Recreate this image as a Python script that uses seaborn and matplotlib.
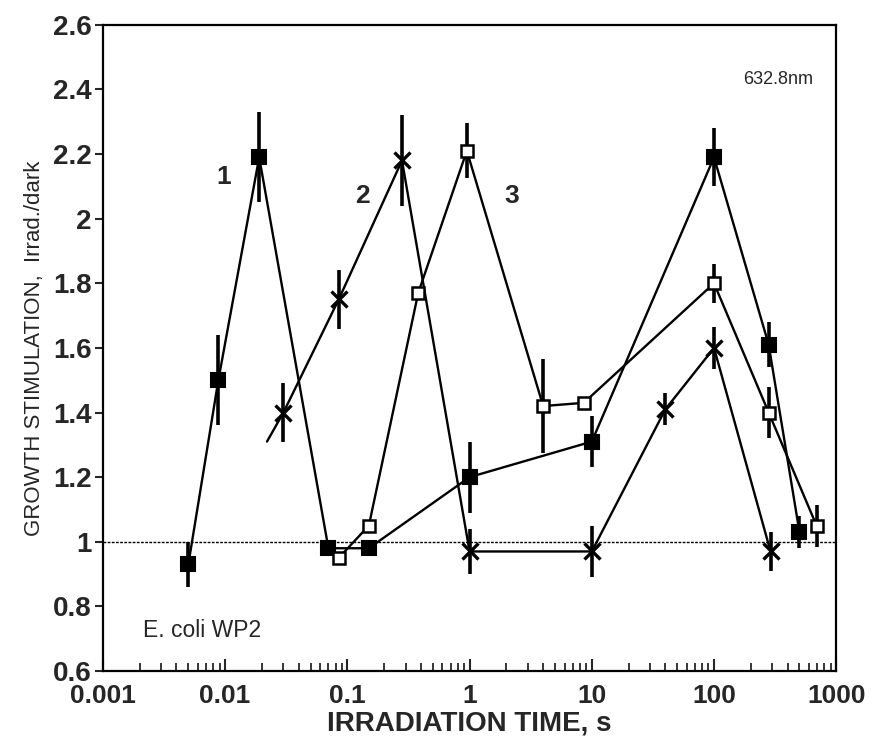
import numpy as np
import matplotlib
matplotlib.use("Agg")
import matplotlib.pyplot as plt
import seaborn as sns

# series 1 (filled squares)
t1 = [0.005, 0.0088, 0.019, 0.07, 0.15, 1, 10, 100, 280, 500]
g1 = [0.93, 1.50, 2.19, 0.98, 0.98, 1.20, 1.31, 2.19, 1.61, 1.03]
e1 = [0.07, 0.14, 0.14, 0.0, 0.0, 0.11, 0.08, 0.09, 0.07, 0.05]

# series 2 (crosses), first point is the start of the line only
t2 = [0.022, 0.030, 0.085, 0.28, 1, 10, 40, 100, 290]
g2 = [1.31, 1.40, 1.75, 2.18, 0.97, 0.97, 1.41, 1.60, 0.97]
e2 = [0.0, 0.09, 0.09, 0.14, 0.07, 0.08, 0.05, 0.065, 0.06]

# series 3 (open squares)
t3 = [0.085, 0.15, 0.38, 0.95, 4, 8.6, 100, 280, 690]
g3 = [0.95, 1.05, 1.77, 2.21, 1.42, 1.43, 1.80, 1.40, 1.05]
e3 = [0.0, 0.0, 0.0, 0.085, 0.145, 0.0, 0.06, 0.08, 0.065]

xticks = [0.001, 0.01, 0.1, 1, 10, 100, 1000]
xticklabels = ['0.001', '0.01', '0.1', '1', '10', '100', '1000']
yticks = [0.6, 0.8, 1.0, 1.2, 1.4, 1.6, 1.8, 2.0, 2.2, 2.4, 2.6]

sns.set_style("ticks")
plt.rcParams['font.family'] = ['Liberation Sans', 'DejaVu Sans']

fig = plt.figure(figsize=(8.72, 7.51), dpi=100)
ax = fig.add_axes([0.118, 0.1065, 0.841, 0.8605])

ax.axhline(1.0, color='k', lw=1.0, ls=(0, (2, 1)), zorder=1)

# error bars
for t, g, e in [(t1, g1, e1), (t2, g2, e2), (t3, g3, e3)]:
    t = np.array(t); g = np.array(g); e = np.array(e)
    m = e > 0
    ax.vlines(t[m], g[m] - e[m], g[m] + e[m], color='k', lw=2.6, zorder=2)

sns.lineplot(x=t1, y=g1, ax=ax, color='k', lw=1.7, sort=False, estimator=None,
             marker='s', markersize=10, markerfacecolor='k',
             markeredgecolor='k', markeredgewidth=1.5, zorder=3)
sns.lineplot(x=t2, y=g2, ax=ax, color='k', lw=1.7, sort=False, estimator=None,
             marker='x', markersize=11, markeredgecolor='k',
             markeredgewidth=2.4, markevery=list(range(1, len(t2))), zorder=3)
sns.lineplot(x=t3, y=g3, ax=ax, color='k', lw=1.7, sort=False, estimator=None,
             marker='s', markersize=9, markerfacecolor='white',
             markeredgecolor='k', markeredgewidth=1.8, zorder=4)

ax.set_xscale('log')
ax.set_xlim(0.001, 1000)
ax.set_ylim(0.6, 2.6)
ax.set_xticks(xticks)
ax.set_xticklabels(xticklabels, fontsize=19, fontweight='bold')
ax.set_yticks(yticks)
ax.set_yticklabels([f'{v:g}' for v in yticks], fontsize=20, fontweight='bold')
ax.xaxis.set_minor_locator(matplotlib.ticker.LogLocator(base=10, subs=np.arange(2, 10)))
ax.xaxis.set_minor_formatter(matplotlib.ticker.NullFormatter())
ax.tick_params(axis='x', which='major', direction='in', length=9, width=1.5, pad=9)
ax.tick_params(axis='x', which='minor', direction='in', length=6, width=1.3)
ax.tick_params(axis='y', which='major', direction='out', length=6, width=1.5, pad=2)

for s in ax.spines.values():
    s.set_linewidth(1.6)
    s.set_color('k')

ax.set_xlabel('IRRADIATION TIME, s', fontsize=20, fontweight='bold', labelpad=2)
ax.set_ylabel('GROWTH STIMULATION,  Irrad./dark', fontsize=16, labelpad=6)

ax.text(0.0097, 2.13, '1', fontsize=19, fontweight='bold', ha='center', va='center')
ax.text(0.133, 2.07, '2', fontsize=19, fontweight='bold', ha='center', va='center')
ax.text(2.2, 2.07, '3', fontsize=19, fontweight='bold', ha='center', va='center')
ax.text(0.921, 0.915, '632.8nm', transform=ax.transAxes, fontsize=13,
        ha='center', va='center')
ax.text(0.055, 0.063, 'E. coli WP2', transform=ax.transAxes, fontsize=16.5,
        ha='left', va='center')

fig.savefig('out.png', dpi=100)
